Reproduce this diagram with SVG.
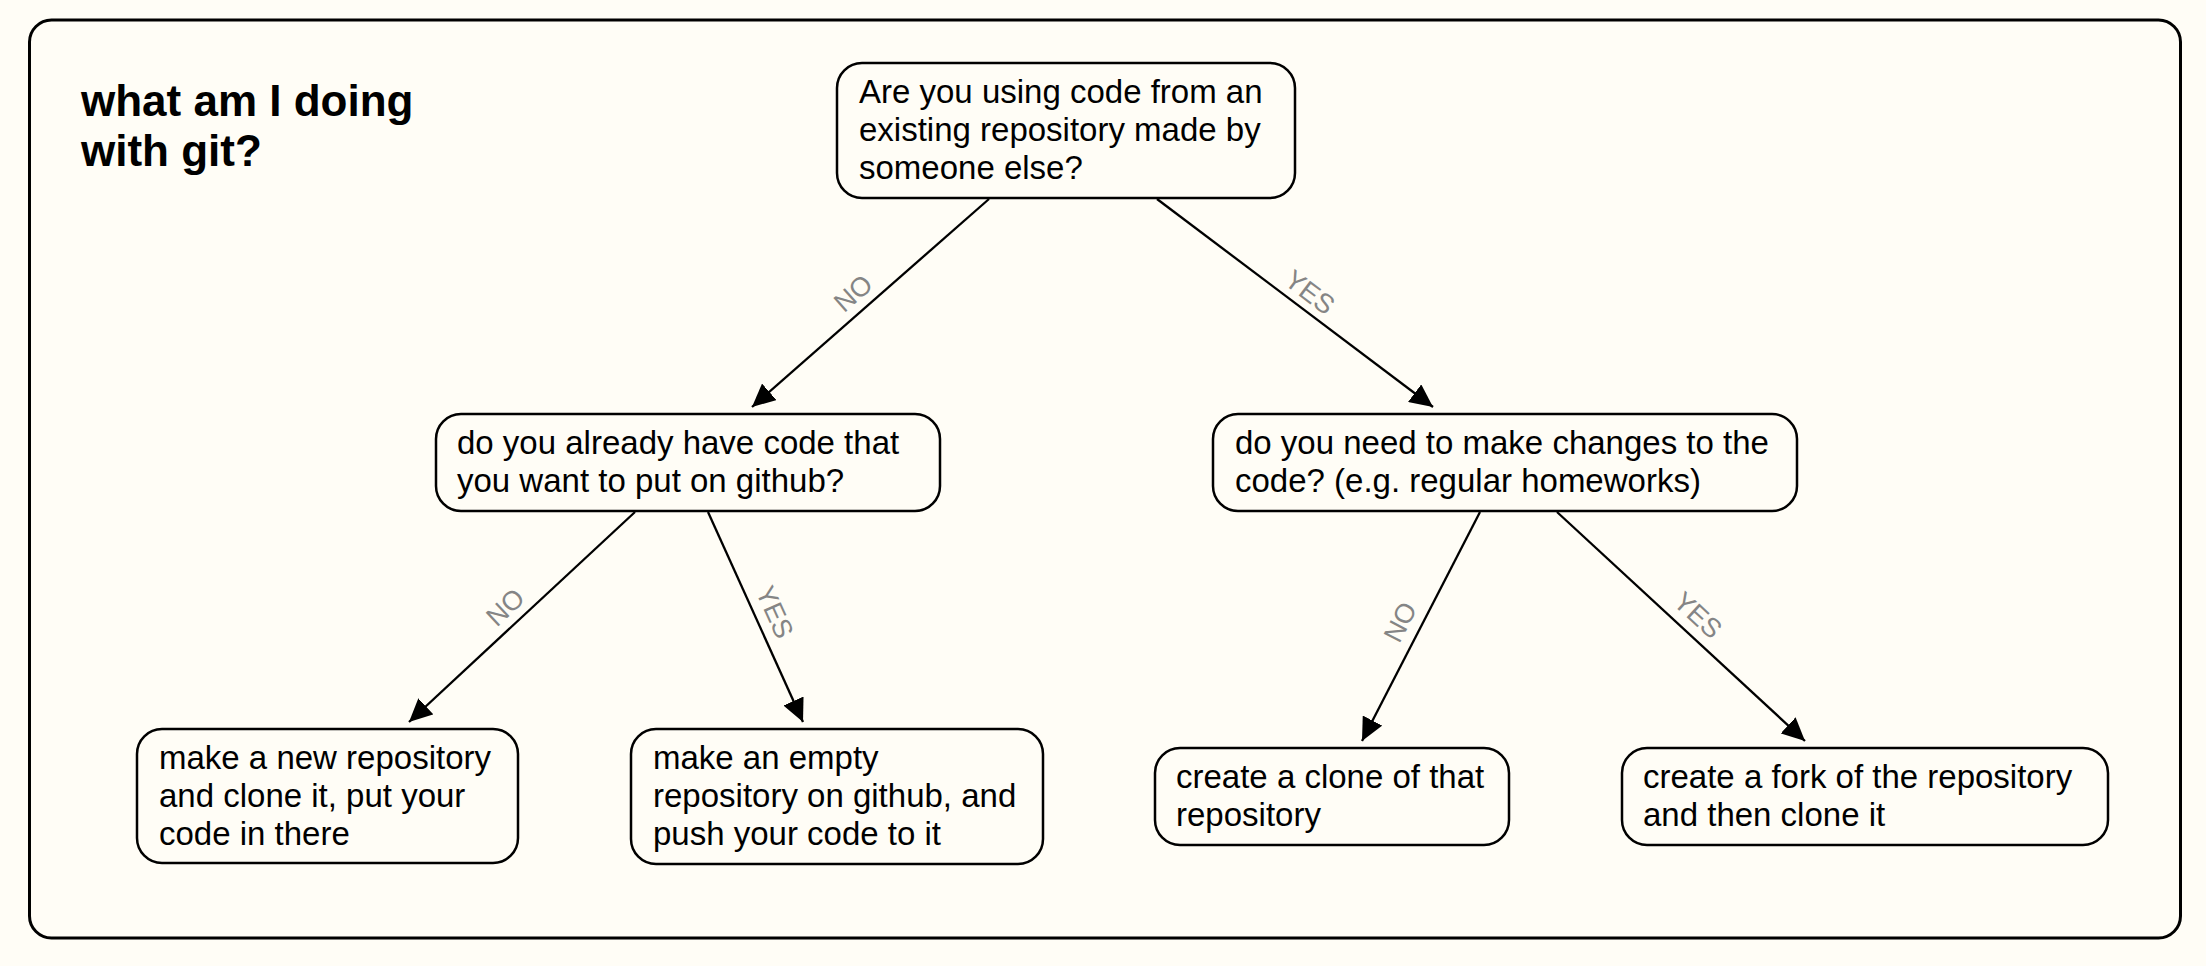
<svg xmlns="http://www.w3.org/2000/svg" width="2206" height="966" viewBox="0 0 2206 966">
<defs>
<style>
.bg{fill:#fffdf6}
.frame{fill:#fffdf6;stroke:#000;stroke-width:3}
.box{fill:#fffdf6;stroke:#000;stroke-width:2.5}
.t{font-family:"Liberation Sans",Arial,Helvetica,sans-serif;font-size:33px;fill:#000}
.title{font-family:"Liberation Sans",Arial,Helvetica,sans-serif;font-size:44px;font-weight:bold;fill:#000}
.edge{stroke:#000;stroke-width:2.3;fill:none;marker-end:url(#arr)}
.lbl{font-family:"Liberation Sans",Arial,Helvetica,sans-serif;font-size:27px;fill:#858585;text-anchor:middle}
</style>
<marker id="arr" markerUnits="userSpaceOnUse" markerWidth="24" markerHeight="22" refX="23" refY="11" orient="auto">
<path d="M0,0 L23,11 L0,22 z" fill="#000"/>
</marker>
</defs>
<rect class="bg" x="0" y="0" width="2206" height="966"/>
<rect class="frame" x="29.5" y="20" width="2151" height="918" rx="22" ry="22"/>
<g id="title">
<text class="title" x="81" y="116">what am I doing</text>
<text class="title" x="81" y="166">with git?</text>
</g>
<g id="connectors">
<line class="edge" x1="989" y1="199" x2="752" y2="407"/>
<line class="edge" x1="1157" y1="199" x2="1433" y2="407"/>
<line class="edge" x1="635" y1="512" x2="409" y2="722"/>
<line class="edge" x1="708" y1="512" x2="803" y2="722"/>
<line class="edge" x1="1480" y1="512" x2="1362" y2="741"/>
<line class="edge" x1="1557" y1="512" x2="1805" y2="741"/>
<text class="lbl" transform="translate(853,293) rotate(-41.3)" dy="9.5">NO</text>
<text class="lbl" transform="translate(1310,292) rotate(37)" dy="9.5">YES</text>
<text class="lbl" transform="translate(505,607) rotate(-42.9)" dy="9.5">NO</text>
<text class="lbl" transform="translate(775,612) rotate(65.7)" dy="9.5">YES</text>
<text class="lbl" transform="translate(1400,622) rotate(-62.7)" dy="9.5">NO</text>
<text class="lbl" transform="translate(1698,615) rotate(42.7)" dy="9.5">YES</text>
</g>
<g id="n-top">
<rect class="box" x="837" y="63" width="458" height="135" rx="25" ry="25"/>
<text class="t" x="859" y="103">Are you using code from an</text>
<text class="t" x="859" y="141">existing repository made by</text>
<text class="t" x="859" y="179">someone else?</text>
</g>
<g id="n-have-code">
<rect class="box" x="436" y="414" width="504" height="97" rx="25" ry="25"/>
<text class="t" x="457" y="454">do you already have code that</text>
<text class="t" x="457" y="492">you want to put on github?</text>
</g>
<g id="n-changes">
<rect class="box" x="1213" y="414" width="584" height="97" rx="25" ry="25"/>
<text class="t" x="1235" y="454">do you need to make changes to the</text>
<text class="t" x="1235" y="492">code? (e.g. regular homeworks)</text>
</g>
<g id="n-new-repo">
<rect class="box" x="137" y="729" width="381" height="134" rx="25" ry="25"/>
<text class="t" x="159" y="769">make a new repository</text>
<text class="t" x="159" y="807">and clone it, put your</text>
<text class="t" x="159" y="845">code in there</text>
</g>
<g id="n-empty-repo">
<rect class="box" x="631" y="729" width="412" height="135" rx="25" ry="25"/>
<text class="t" x="653" y="769">make an empty</text>
<text class="t" x="653" y="807">repository on github, and</text>
<text class="t" x="653" y="845">push your code to it</text>
</g>
<g id="n-clone">
<rect class="box" x="1155" y="748" width="354" height="97" rx="25" ry="25"/>
<text class="t" x="1176" y="788">create a clone of that</text>
<text class="t" x="1176" y="826">repository</text>
</g>
<g id="n-fork">
<rect class="box" x="1622" y="748" width="486" height="97" rx="25" ry="25"/>
<text class="t" x="1643" y="788">create a fork of the repository</text>
<text class="t" x="1643" y="826">and then clone it</text>
</g>
</svg>
